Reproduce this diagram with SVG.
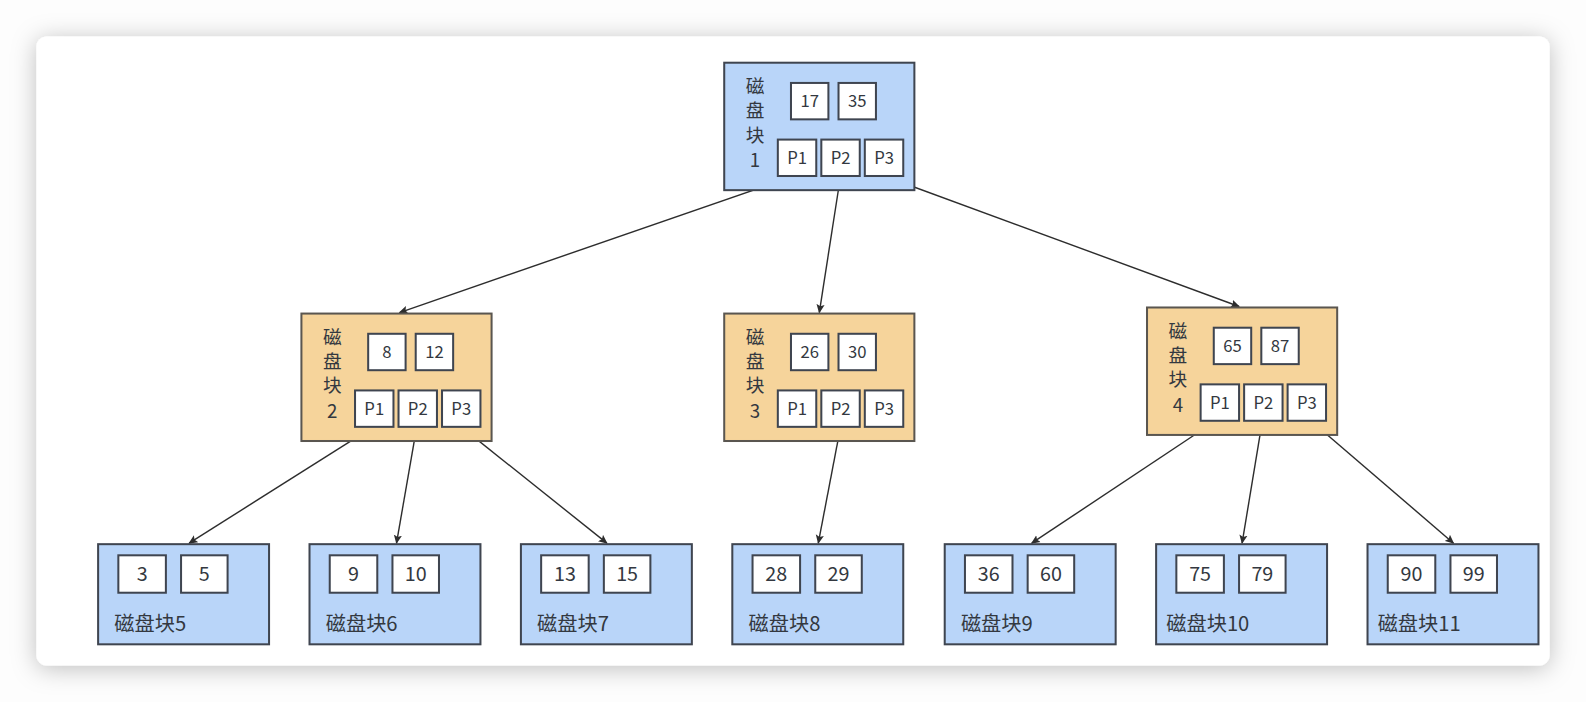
<svg xmlns="http://www.w3.org/2000/svg" width="1586" height="702" viewBox="0 0 1586 702">
<style>
.inner{fill:#b9d5f9;stroke:#3f4550;stroke-width:2}
.mid{fill:#f6d49b;stroke:#5a5650;stroke-width:2}
.key{fill:#ffffff;stroke:#3f4550;stroke-width:2}
.t{font-family:"Noto Sans CJK SC","Noto Sans",sans-serif;fill:#333840}
.k{font-size:16.5px;text-anchor:middle}
.lk{font-size:19.5px;text-anchor:middle}
.lab{font-size:20px}
.v{font-size:18.5px;text-anchor:middle}
.edge{stroke:#2d2d2d;stroke-width:1.4;fill:none;marker-end:url(#arr)}
</style>
<defs>
<filter id="sh" x="-5%" y="-10%" width="110%" height="120%">
<feDropShadow dx="0" dy="3" stdDeviation="12" flood-color="#000" flood-opacity="0.25"/>
</filter>
<marker id="arr" viewBox="0 0 10 10" refX="9" refY="5" markerWidth="9" markerHeight="9" markerUnits="userSpaceOnUse" orient="auto">
<path d="M0,0.5 L10,5 L0,9.5 L2,5 Z" fill="#2d2d2d"/>
</marker>
</defs>
<rect x="0" y="0" width="1586" height="702" fill="#fdfdfd"/>
<g transform="scale(1.01148)">
<rect x="36" y="36" width="1496" height="622" rx="10" fill="#ffffff" filter="url(#sh)"/>

<g id="connectors">
<line class="edge" x1="785" y1="174" x2="395" y2="309"/>
<line class="edge" x1="831" y1="174" x2="810" y2="309"/>
<line class="edge" x1="874" y1="174" x2="1225" y2="303"/>
<line class="edge" x1="369" y1="422" x2="187" y2="537"/>
<line class="edge" x1="412" y1="422" x2="392" y2="537"/>
<line class="edge" x1="456" y1="422" x2="600" y2="537"/>
<line class="edge" x1="831" y1="422" x2="809" y2="537"/>
<line class="edge" x1="1202" y1="416" x2="1020" y2="537"/>
<line class="edge" x1="1248" y1="416" x2="1228" y2="537"/>
<line class="edge" x1="1296" y1="416" x2="1437" y2="537"/>
</g>

<g id="node1">
<rect class="inner" x="716" y="62" width="188" height="126"/>
<rect class="key" x="782" y="82" width="37" height="36"/>
<rect class="key" x="829" y="82" width="37" height="36"/>
<rect class="key" x="769" y="138" width="38" height="36"/>
<rect class="key" x="812" y="138" width="38" height="36"/>
<rect class="key" x="855" y="138" width="38" height="36"/>
<text class="t k" x="800.5" y="106">17</text>
<text class="t k" x="847.5" y="106">35</text>
<text class="t k" x="788" y="162">P1</text>
<text class="t k" x="831" y="162">P2</text>
<text class="t k" x="874" y="162">P3</text>
<text class="t v" x="746.5" y="92">磁</text>
<text class="t v" x="746.5" y="116">盘</text>
<text class="t v" x="746.5" y="140">块</text>
<text class="t v" x="746.5" y="165">1</text>
</g>

<g id="node2">
<rect class="mid" x="298" y="310" width="188" height="126"/>
<rect class="key" x="364" y="330" width="37" height="36"/>
<rect class="key" x="411" y="330" width="37" height="36"/>
<rect class="key" x="351" y="386" width="38" height="36"/>
<rect class="key" x="394" y="386" width="38" height="36"/>
<rect class="key" x="437" y="386" width="38" height="36"/>
<text class="t k" x="382.5" y="354">8</text>
<text class="t k" x="429.5" y="354">12</text>
<text class="t k" x="370" y="410">P1</text>
<text class="t k" x="413" y="410">P2</text>
<text class="t k" x="456" y="410">P3</text>
<text class="t v" x="328.5" y="340">磁</text>
<text class="t v" x="328.5" y="364">盘</text>
<text class="t v" x="328.5" y="388">块</text>
<text class="t v" x="328.5" y="413">2</text>
</g>

<g id="node3">
<rect class="mid" x="716" y="310" width="188" height="126"/>
<rect class="key" x="782" y="330" width="37" height="36"/>
<rect class="key" x="829" y="330" width="37" height="36"/>
<rect class="key" x="769" y="386" width="38" height="36"/>
<rect class="key" x="812" y="386" width="38" height="36"/>
<rect class="key" x="855" y="386" width="38" height="36"/>
<text class="t k" x="800.5" y="354">26</text>
<text class="t k" x="847.5" y="354">30</text>
<text class="t k" x="788" y="410">P1</text>
<text class="t k" x="831" y="410">P2</text>
<text class="t k" x="874" y="410">P3</text>
<text class="t v" x="746.5" y="340">磁</text>
<text class="t v" x="746.5" y="364">盘</text>
<text class="t v" x="746.5" y="388">块</text>
<text class="t v" x="746.5" y="413">3</text>
</g>

<g id="node4">
<rect class="mid" x="1134" y="304" width="188" height="126"/>
<rect class="key" x="1200" y="324" width="37" height="36"/>
<rect class="key" x="1247" y="324" width="37" height="36"/>
<rect class="key" x="1187" y="380" width="38" height="36"/>
<rect class="key" x="1230" y="380" width="38" height="36"/>
<rect class="key" x="1273" y="380" width="38" height="36"/>
<text class="t k" x="1218.5" y="348">65</text>
<text class="t k" x="1265.5" y="348">87</text>
<text class="t k" x="1206" y="404">P1</text>
<text class="t k" x="1249" y="404">P2</text>
<text class="t k" x="1292" y="404">P3</text>
<text class="t v" x="1164.5" y="334">磁</text>
<text class="t v" x="1164.5" y="358">盘</text>
<text class="t v" x="1164.5" y="382">块</text>
<text class="t v" x="1164.5" y="407">4</text>
</g>

<g id="node5">
<rect class="inner" x="97" y="538" width="169" height="99"/>
<rect class="key" x="117" y="549" width="47" height="37"/>
<rect class="key" x="179" y="549" width="46" height="37"/>
<text class="t lk" x="140.5" y="574.5">3</text>
<text class="t lk" x="202" y="574.5">5</text>
<text class="t lab" x="113" y="624">磁盘块5</text>
</g>
<g id="node6">
<rect class="inner" x="306" y="538" width="169" height="99"/>
<rect class="key" x="326" y="549" width="47" height="37"/>
<rect class="key" x="388" y="549" width="46" height="37"/>
<text class="t lk" x="349.5" y="574.5">9</text>
<text class="t lk" x="411" y="574.5">10</text>
<text class="t lab" x="322" y="624">磁盘块6</text>
</g>
<g id="node7">
<rect class="inner" x="515" y="538" width="169" height="99"/>
<rect class="key" x="535" y="549" width="47" height="37"/>
<rect class="key" x="597" y="549" width="46" height="37"/>
<text class="t lk" x="558.5" y="574.5">13</text>
<text class="t lk" x="620" y="574.5">15</text>
<text class="t lab" x="531" y="624">磁盘块7</text>
</g>
<g id="node8">
<rect class="inner" x="724" y="538" width="169" height="99"/>
<rect class="key" x="744" y="549" width="47" height="37"/>
<rect class="key" x="806" y="549" width="46" height="37"/>
<text class="t lk" x="767.5" y="574.5">28</text>
<text class="t lk" x="829" y="574.5">29</text>
<text class="t lab" x="740" y="624">磁盘块8</text>
</g>
<g id="node9">
<rect class="inner" x="934" y="538" width="169" height="99"/>
<rect class="key" x="954" y="549" width="47" height="37"/>
<rect class="key" x="1016" y="549" width="46" height="37"/>
<text class="t lk" x="977.5" y="574.5">36</text>
<text class="t lk" x="1039" y="574.5">60</text>
<text class="t lab" x="950" y="624">磁盘块9</text>
</g>
<g id="node10">
<rect class="inner" x="1143" y="538" width="169" height="99"/>
<rect class="key" x="1163" y="549" width="47" height="37"/>
<rect class="key" x="1225" y="549" width="46" height="37"/>
<text class="t lk" x="1186.5" y="574.5">75</text>
<text class="t lk" x="1248" y="574.5">79</text>
<text class="t lab" x="1153" y="624">磁盘块10</text>
</g>
<g id="node11">
<rect class="inner" x="1352" y="538" width="169" height="99"/>
<rect class="key" x="1372" y="549" width="47" height="37"/>
<rect class="key" x="1434" y="549" width="46" height="37"/>
<text class="t lk" x="1395.5" y="574.5">90</text>
<text class="t lk" x="1457" y="574.5">99</text>
<text class="t lab" x="1362" y="624">磁盘块11</text>
</g>
</g>
</svg>
